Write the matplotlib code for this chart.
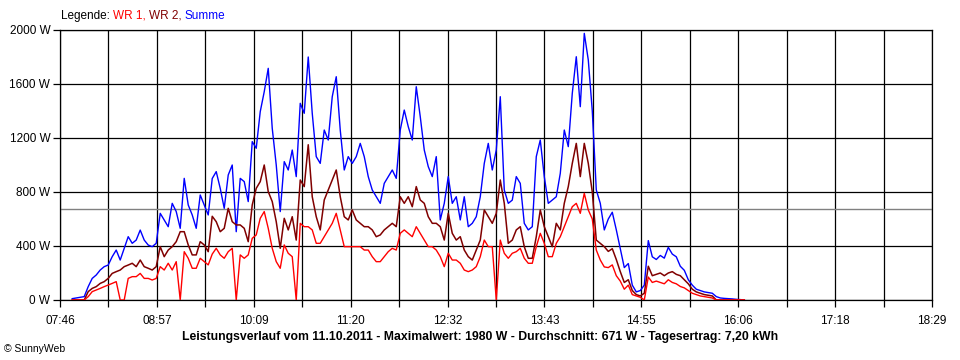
import numpy as np
import matplotlib
matplotlib.use("Agg")
import matplotlib.pyplot as plt

# ---- data (W), regular samples starting 07:55, every ~2.95 min ----
t_start_min = 7 * 60 + 55
t_step_min = 2.95

summe = [10, 15, 20, 25, 99, 160, 185, 222, 247, 259, 321, 370, 296, 383, 469, 420, 444, 518, 444, 407,
         395, 420, 642, 593, 543, 716, 655, 531, 901, 704, 630, 531, 778, 704, 630, 900, 951, 827, 679, 926,
         1000, 506, 901, 877, 729, 1173, 1124, 1395, 1543, 1716, 1272, 1000, 655, 1025, 963, 1111, 914, 1457, 1383, 1800,
         1383, 1062, 1012, 1259, 1185, 1506, 1654, 1259, 963, 1062, 1012, 1062, 1160, 1062, 914, 815, 765, 716, 864, 914,
         963, 901, 1259, 1407, 1284, 1185, 1580, 1358, 1111, 988, 914, 1062, 593, 716, 914, 716, 765, 593, 765, 543,
         568, 617, 765, 1012, 1160, 963, 1111, 1506, 815, 716, 740, 914, 864, 568, 519, 543, 1062, 1185, 914, 716,
         740, 765, 938, 1259, 1136, 1531, 1802, 1432, 1975, 1778, 1400, 815, 716, 519, 600, 650, 520, 380, 240, 270,
         110, 60, 70, 110, 440, 320, 300, 330, 310, 390, 340, 320, 250, 220, 150, 110, 80, 70, 60, 55,
         50, 25, 15, 12, 10, 8, 5, 3, 0]

wr2 = [0, 0, 0, 0, 62, 86, 99, 123, 136, 160, 197, 210, 222, 247, 259, 272, 247, 296, 247, 235,
       222, 247, 395, 321, 370, 395, 432, 506, 506, 408, 334, 334, 432, 408, 358, 620, 580, 506, 531, 679,
       580, 556, 556, 531, 432, 704, 827, 877, 1000, 803, 729, 580, 383, 605, 519, 617, 444, 889, 840, 1150,
       765, 617, 519, 741, 815, 889, 963, 765, 617, 593, 667, 593, 568, 543, 543, 519, 469, 482, 519, 543,
       568, 543, 765, 716, 765, 691, 840, 741, 716, 617, 568, 568, 543, 444, 642, 494, 444, 469, 370, 321,
       296, 370, 444, 667, 617, 568, 642, 889, 716, 420, 444, 519, 543, 395, 309, 309, 469, 667, 543, 469,
       395, 568, 519, 716, 840, 1012, 1160, 914, 1160, 1012, 800, 444, 420, 395, 360, 380, 300, 210, 130, 150,
       70, 40, 30, 50, 250, 180, 190, 200, 180, 200, 210, 190, 180, 150, 120, 80, 60, 50, 40, 35,
       30, 0, 0, 0, 0, 0, 0, 0, 0]

wr1 = [0, 0, 0, 0, 25, 62, 74, 86, 99, 111, 123, 136, 0, 0, 160, 173, 173, 197, 160, 160,
       148, 160, 247, 222, 272, 222, 284, 0, 358, 309, 235, 235, 309, 284, 260, 340, 383, 334, 309, 358,
       383, 0, 334, 309, 334, 457, 482, 605, 655, 531, 383, 284, 235, 408, 346, 321, 0, 568, 543, 543,
       519, 420, 420, 469, 519, 568, 642, 519, 395, 395, 395, 395, 395, 370, 370, 321, 284, 284, 321, 358,
       383, 370, 494, 519, 494, 469, 543, 494, 444, 395, 395, 370, 321, 247, 346, 296, 296, 272, 222, 210,
       222, 247, 321, 444, 395, 395, 0, 444, 346, 309, 346, 358, 383, 309, 272, 272, 395, 494, 420, 321,
       321, 420, 469, 543, 617, 691, 716, 642, 790, 667, 600, 370, 296, 245, 240, 260, 180, 140, 80, 110,
       40, 30, 20, 0, 170, 130, 140, 130, 120, 150, 130, 120, 100, 90, 70, 50, 40, 30, 25, 20,
       15, 0, 0, 0, 0, 0, 0, 0, 0]

mittelwert = 671

y_ticks = [0, 400, 800, 1200, 1600, 2000]
y_tick_labels = ["0 W", "400 W", "800 W", "1200 W", "1600 W", "2000 W"]
x_tick_labels = ["07:46", "08:57", "10:09", "11:20", "12:32", "13:43", "14:55", "16:06", "17:18", "18:29"]
x_min = 7 * 60 + 46
x_max = 18 * 60 + 29

title = "Leistungsverlauf vom 11.10.2011 - Maximalwert: 1980 W - Durchschnitt: 671 W - Tagesertrag: 7,20 kWh"

# ---- figure ----
plt.rcParams['font.family'] = ['Liberation Sans', 'DejaVu Sans']
fig = plt.figure(figsize=(9.6, 3.6), dpi=100)
fig.patch.set_facecolor("white")
ax = fig.add_axes([60 / 960, 1 - 300 / 360, 872 / 960, 270 / 360])

t = t_start_min + t_step_min * np.arange(len(summe))

C_WR1 = "#FF0000"
C_WR2 = "#800000"
C_SUM = "#0000FF"

ax.axhline(mittelwert, color="#808080", lw=1.0, zorder=2)
ax.plot(t, summe, color=C_SUM, lw=1.0, zorder=3)
ax.plot(t, wr2, color=C_WR2, lw=1.1, zorder=4)
ax.plot(t, wr1, color=C_WR1, lw=1.0, zorder=5)

ax.set_xlim(x_min, x_max)
ax.set_ylim(0, 2000)

major = np.linspace(x_min, x_max, len(x_tick_labels))
minor = (major[:-1] + major[1:]) / 2
ax.set_xticks(major)
ax.set_xticklabels(x_tick_labels)
ax.set_xticks(minor, minor=True)
ax.set_yticks(y_ticks)
ax.set_yticklabels(y_tick_labels)

ax.grid(True, which="both", axis="x", color="black", lw=0.9, zorder=1)
ax.grid(True, which="major", axis="y", color="black", lw=0.9, zorder=1)
ax.set_axisbelow(True)
for s in ax.spines.values():
    s.set_color("black")
    s.set_linewidth(0.9)
ax.tick_params(axis="both", which="both", direction="out", length=5, width=0.9,
               colors="black", labelsize=8.5)
ax.tick_params(axis="x", pad=6)
ax.tick_params(axis="y", pad=2)

# legend text with multiple colours
fig.canvas.draw()
renderer = fig.canvas.get_renderer()
xpos = 61 / 960
ypos = 1 - 16 / 360
for txt, col in [("Legende: ", "black"), ("WR 1, ", C_WR1), ("WR 2, ", C_WR2), ("Summe", C_SUM)]:
    tt = fig.text(xpos, ypos, txt, color=col, fontsize=8.5, ha="left", va="center")
    bb = tt.get_window_extent(renderer=renderer)
    xpos += bb.width / fig.bbox.width

fig.text(480 / 960, 1 - 337 / 360, title, fontsize=8.8, fontweight="bold", ha="center", va="center")
fig.text(4 / 960, 1 - 349 / 360, "\u00a9 SunnyWeb", fontsize=7.5, ha="left", va="center")

fig.savefig("out.png", dpi=100, facecolor="white")
